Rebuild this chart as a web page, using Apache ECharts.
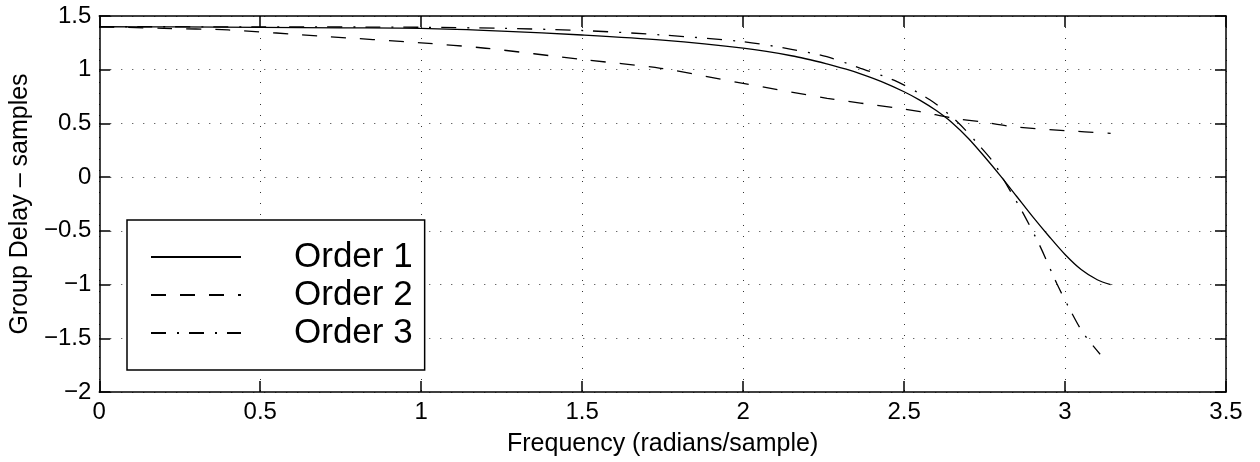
<!DOCTYPE html>
<html>
<head>
<meta charset="utf-8">
<script src="https://cdn.jsdelivr.net/npm/echarts@6/dist/echarts.min.js"></script>
<style>html,body{margin:0;padding:0;background:#fff}#c{width:1260px;height:462px}</style>
</head>
<body>
<div id="c"></div>
<script>
// Data
const seriesNames = ['Order 1', 'Order 2', 'Order 3'];
const xTicks = [0, 0.5, 1, 1.5, 2, 2.5, 3, 3.5];
const yTicks = [-2, -1.5, -1, -0.5, 0, 0.5, 1, 1.5];

const order1 = [
  [0,1.4],[0.25,1.399],[0.5,1.395],[0.75,1.39],[1.0,1.385],[1.25,1.36],[1.5,1.323],
  [1.75,1.275],[2.0,1.2],[2.15,1.13],[2.26,1.055],[2.32,1.005],[2.365,0.962],[2.43,0.89],
  [2.5,0.795],[2.55,0.715],[2.6,0.62],[2.65,0.505],[2.7,0.36],[2.75,0.19],[2.8,0.01],
  [2.85,-0.18],[2.9,-0.37],[2.95,-0.55],[3.0,-0.72],[3.05,-0.86],[3.1,-0.955],[3.1416,-1.0]
];
const order2 = [
  [0,1.4],[0.2,1.385],[0.4,1.37],[0.7,1.31],[1.0,1.25],[1.2,1.2],[1.5,1.095],
  [1.744,1.013],[2.0,0.873],[2.261,0.734],[2.468,0.647],[2.55,0.609],[2.654,0.548],
  [2.737,0.516],[2.84,0.47],[3.0,0.433],[3.1416,0.408]
];
const order3 = [
  [0,1.4],[0.5,1.399],[1.0,1.395],[1.25,1.385],[1.5,1.365],[1.75,1.323],[2.0,1.261],
  [2.15,1.19],[2.26,1.121],[2.365,1.013],[2.47,0.9],[2.58,0.72],[2.665,0.516],
  [2.737,0.283],[2.78,0.129],[2.81,-0.027],[2.87,-0.337],[2.923,-0.647],[2.974,-0.988],
  [3.016,-1.237],[3.057,-1.454],[3.109,-1.649]
];

const FONT = '"Liberation Sans", Arial, Helvetica, sans-serif';
const minus = v => String(v).replace('-', '\u2212');

const chart = echarts.init(document.getElementById('c'), null, {renderer: 'canvas'});
const gridLine = {show: true, lineStyle: {color: '#333', width: 1, type: [1, 10]}};
const boxLine = {show: true, onZero: false, lineStyle: {color: '#000', width: 1.5}};
const tick = {show: true, inside: true, length: 11, lineStyle: {color: '#000', width: 1.5}};

chart.setOption({
  animation: false,
  backgroundColor: '#fff',
  grid: {left: 98, right: 34, top: 16, bottom: 70, containLabel: false},
  legend: {
    show: true,
    orient: 'vertical',
    left: 127, top: 220,
    data: seriesNames,
    itemWidth: 90, itemHeight: 14, itemGap: 0,
    padding: [18, 12, 18, 23],
    borderColor: '#000', borderWidth: 1.5,
    backgroundColor: '#fff',
    selectedMode: false,
    itemStyle: {color: 'rgba(0,0,0,0)', borderColor: 'rgba(0,0,0,0)', borderWidth: 0},
    textStyle: {fontFamily: FONT, fontSize: 35, color: '#000', lineHeight: 38, padding: [0, 0, 0, 48]}
  },
  xAxis: [{
    type: 'value', min: 0, max: 3.5, interval: 0.5, position: 'bottom',
    name: 'Frequency (radians/sample)', nameLocation: 'middle', nameGap: 40,
    nameTextStyle: {fontFamily: FONT, fontSize: 25, color: '#000'},
    axisLine: boxLine, axisTick: tick,
    axisLabel: {fontFamily: FONT, fontSize: 24, color: '#000', margin: 8, formatter: minus},
    splitLine: gridLine
  }, {
    type: 'value', min: 0, max: 3.5, interval: 0.5, position: 'top',
    axisLine: boxLine, axisTick: tick, axisLabel: {show: false}, splitLine: {show: false}
  }],
  yAxis: [{
    type: 'value', min: -2, max: 1.5, interval: 0.5, position: 'left',
    name: 'Group Delay \u2013 samples', nameLocation: 'middle', nameGap: 63,
    nameTextStyle: {fontFamily: FONT, fontSize: 25, color: '#000'},
    axisLine: boxLine, axisTick: tick,
    axisLabel: {fontFamily: FONT, fontSize: 24, color: '#000', margin: 8, formatter: minus},
    splitLine: gridLine
  }, {
    type: 'value', min: -2, max: 1.5, interval: 0.5, position: 'right',
    axisLine: boxLine, axisTick: tick, axisLabel: {show: false}, splitLine: {show: false}
  }],
  series: [
    {name: seriesNames[0], type: 'line', data: order1, symbol: 'none', showSymbol: false, smooth: 0.3,
     lineStyle: {color: '#000', width: 1.3, type: 'solid'}, itemStyle: {color: '#000'}},
    {name: seriesNames[1], type: 'line', data: order2, symbol: 'none', showSymbol: false, smooth: 0.3,
     lineStyle: {color: '#000', width: 1.3, type: [15, 14]}, itemStyle: {color: '#000'}},
    {name: seriesNames[2], type: 'line', data: order3, symbol: 'none', showSymbol: false, smooth: 0.3,
     lineStyle: {color: '#000', width: 1.3, type: [15, 11, 2, 10]}, itemStyle: {color: '#000'}}
  ]
});
</script>
</body>
</html>
